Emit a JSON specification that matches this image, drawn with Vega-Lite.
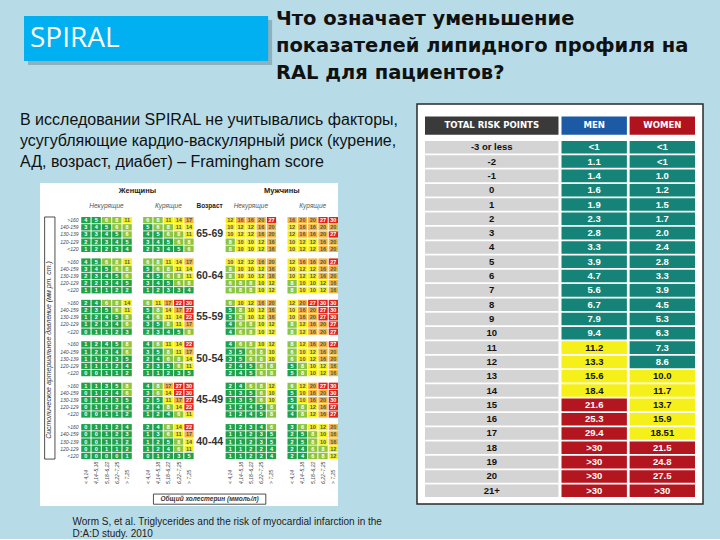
{
  "$schema": "https://vega.github.io/schema/vega-lite/v6.json",
  "background": "#b7dce8",
  "padding": {"left": 20, "top": 7, "right": 16, "bottom": 0},
  "config": {"view": {"stroke": null}, "font": "Liberation Sans"},
  "datasets": {
    "score": [
      {"age":"65-69","sbp":">160","WN1":4,"WN2":5,"WN3":6,"WN4":8,"WN5":11,"WS1":6,"WS2":8,"WS3":11,"WS4":14,"WS5":17,"MN1":12,"MN2":16,"MN3":16,"MN4":20,"MN5":27,"MS1":16,"MS2":20,"MS3":20,"MS4":27,"MS5":30},
      {"age":"65-69","sbp":"140-159","WN1":3,"WN2":4,"WN3":5,"WN4":6,"WN5":8,"WS1":5,"WS2":6,"WS3":8,"WS4":11,"WS5":14,"MN1":10,"MN2":12,"MN3":12,"MN4":16,"MN5":20,"MS1":12,"MS2":16,"MS3":16,"MS4":20,"MS5":20},
      {"age":"65-69","sbp":"130-139","WN1":3,"WN2":3,"WN3":4,"WN4":5,"WN5":6,"WS1":4,"WS2":5,"WS3":6,"WS4":8,"WS5":11,"MN1":10,"MN2":12,"MN3":12,"MN4":16,"MN5":20,"MS1":12,"MS2":16,"MS3":16,"MS4":20,"MS5":27},
      {"age":"65-69","sbp":"120-129","WN1":2,"WN2":2,"WN3":3,"WN4":4,"WN5":5,"WS1":3,"WS2":4,"WS3":5,"WS4":6,"WS5":8,"MN1":8,"MN2":10,"MN3":10,"MN4":12,"MN5":16,"MS1":10,"MS2":12,"MS3":12,"MS4":16,"MS5":20},
      {"age":"65-69","sbp":"<120","WN1":1,"WN2":2,"WN3":2,"WN4":3,"WN5":4,"WS1":2,"WS2":3,"WS3":4,"WS4":5,"WS5":6,"MN1":8,"MN2":10,"MN3":10,"MN4":12,"MN5":16,"MS1":10,"MS2":12,"MS3":12,"MS4":16,"MS5":20},
      {"age":"60-64","sbp":">160","WN1":4,"WN2":5,"WN3":6,"WN4":8,"WN5":11,"WS1":6,"WS2":8,"WS3":11,"WS4":14,"WS5":17,"MN1":10,"MN2":12,"MN3":12,"MN4":16,"MN5":20,"MS1":12,"MS2":16,"MS3":16,"MS4":20,"MS5":27},
      {"age":"60-64","sbp":"140-159","WN1":3,"WN2":4,"WN3":5,"WN4":6,"WN5":8,"WS1":5,"WS2":6,"WS3":8,"WS4":11,"WS5":14,"MN1":8,"MN2":10,"MN3":10,"MN4":12,"MN5":16,"MS1":10,"MS2":12,"MS3":12,"MS4":16,"MS5":20},
      {"age":"60-64","sbp":"130-139","WN1":2,"WN2":3,"WN3":4,"WN4":5,"WN5":6,"WS1":4,"WS2":5,"WS3":6,"WS4":8,"WS5":11,"MN1":8,"MN2":10,"MN3":10,"MN4":12,"MN5":16,"MS1":10,"MS2":12,"MS3":12,"MS4":16,"MS5":20},
      {"age":"60-64","sbp":"120-129","WN1":2,"WN2":2,"WN3":3,"WN4":4,"WN5":5,"WS1":3,"WS2":4,"WS3":5,"WS4":6,"WS5":8,"MN1":6,"MN2":8,"MN3":8,"MN4":10,"MN5":12,"MS1":8,"MS2":10,"MS3":10,"MS4":12,"MS5":16},
      {"age":"60-64","sbp":"<120","WN1":1,"WN2":1,"WN3":1,"WN4":2,"WN5":2,"WS1":1,"WS2":2,"WS3":3,"WS4":3,"WS5":4,"MN1":6,"MN2":8,"MN3":8,"MN4":10,"MN5":12,"MS1":8,"MS2":10,"MS3":10,"MS4":12,"MS5":16},
      {"age":"55-59","sbp":">160","WN1":2,"WN2":4,"WN3":6,"WN4":8,"WN5":14,"WS1":6,"WS2":11,"WS3":17,"WS4":22,"WS5":30,"MN1":6,"MN2":10,"MN3":12,"MN4":16,"MN5":20,"MS1":12,"MS2":20,"MS3":27,"MS4":30,"MS5":30},
      {"age":"55-59","sbp":"140-159","WN1":2,"WN2":3,"WN3":5,"WN4":6,"WN5":11,"WS1":5,"WS2":8,"WS3":14,"WS4":17,"WS5":27,"MN1":5,"MN2":8,"MN3":10,"MN4":12,"MN5":16,"MS1":10,"MS2":16,"MS3":20,"MS4":27,"MS5":30},
      {"age":"55-59","sbp":"130-139","WN1":1,"WN2":2,"WN3":4,"WN4":5,"WN5":8,"WS1":4,"WS2":6,"WS3":11,"WS4":14,"WS5":22,"MN1":5,"MN2":8,"MN3":10,"MN4":12,"MN5":16,"MS1":10,"MS2":16,"MS3":20,"MS4":27,"MS5":30},
      {"age":"55-59","sbp":"120-129","WN1":1,"WN2":2,"WN3":3,"WN4":4,"WN5":6,"WS1":3,"WS2":5,"WS3":8,"WS4":11,"WS5":17,"MN1":4,"MN2":6,"MN3":8,"MN4":10,"MN5":12,"MS1":8,"MS2":12,"MS3":16,"MS4":20,"MS5":27},
      {"age":"55-59","sbp":"<120","WN1":0,"WN2":1,"WN3":1,"WN4":2,"WN5":3,"WS1":2,"WS2":3,"WS3":4,"WS4":5,"WS5":8,"MN1":4,"MN2":6,"MN3":8,"MN4":10,"MN5":12,"MS1":8,"MS2":12,"MS3":16,"MS4":20,"MS5":27},
      {"age":"50-54","sbp":">160","WN1":1,"WN2":2,"WN3":4,"WN4":5,"WN5":8,"WS1":4,"WS2":6,"WS3":11,"WS4":14,"WS5":22,"MN1":4,"MN2":6,"MN3":8,"MN4":10,"MN5":12,"MS1":8,"MS2":12,"MS3":16,"MS4":20,"MS5":27},
      {"age":"50-54","sbp":"140-159","WN1":1,"WN2":2,"WN3":3,"WN4":4,"WN5":6,"WS1":3,"WS2":5,"WS3":8,"WS4":11,"WS5":17,"MN1":3,"MN2":5,"MN3":6,"MN4":8,"MN5":10,"MS1":6,"MS2":10,"MS3":12,"MS4":16,"MS5":20},
      {"age":"50-54","sbp":"130-139","WN1":1,"WN2":1,"WN3":2,"WN4":3,"WN5":5,"WS1":2,"WS2":4,"WS3":6,"WS4":8,"WS5":14,"MN1":3,"MN2":5,"MN3":6,"MN4":8,"MN5":10,"MS1":6,"MS2":10,"MS3":12,"MS4":16,"MS5":20},
      {"age":"50-54","sbp":"120-129","WN1":1,"WN2":1,"WN3":1,"WN4":2,"WN5":4,"WS1":2,"WS2":3,"WS3":5,"WS4":6,"WS5":11,"MN1":2,"MN2":4,"MN3":5,"MN4":6,"MN5":8,"MS1":5,"MS2":8,"MS3":10,"MS4":12,"MS5":16},
      {"age":"50-54","sbp":"<120","WN1":0,"WN2":0,"WN3":1,"WN4":1,"WN5":2,"WS1":1,"WS2":1,"WS3":2,"WS4":3,"WS5":5,"MN1":2,"MN2":4,"MN3":5,"MN4":6,"MN5":8,"MS1":5,"MS2":8,"MS3":10,"MS4":12,"MS5":16},
      {"age":"45-49","sbp":">160","WN1":1,"WN2":1,"WN3":3,"WN4":5,"WN5":8,"WS1":4,"WS2":8,"WS3":17,"WS4":27,"WS5":30,"MN1":2,"MN2":4,"MN3":6,"MN4":8,"MN5":12,"MS1":6,"MS2":12,"MS3":20,"MS4":27,"MS5":30},
      {"age":"45-49","sbp":"140-159","WN1":0,"WN2":1,"WN3":2,"WN4":4,"WN5":6,"WS1":3,"WS2":6,"WS3":14,"WS4":22,"WS5":30,"MN1":1,"MN2":3,"MN3":5,"MN4":6,"MN5":10,"MS1":5,"MS2":10,"MS3":16,"MS4":20,"MS5":30},
      {"age":"45-49","sbp":"130-139","WN1":0,"WN2":1,"WN3":2,"WN4":3,"WN5":5,"WS1":2,"WS2":5,"WS3":11,"WS4":17,"WS5":27,"MN1":1,"MN2":3,"MN3":5,"MN4":6,"MN5":10,"MS1":5,"MS2":10,"MS3":16,"MS4":20,"MS5":30},
      {"age":"45-49","sbp":"120-129","WN1":0,"WN2":1,"WN3":1,"WN4":2,"WN5":4,"WS1":2,"WS2":4,"WS3":8,"WS4":14,"WS5":22,"MN1":1,"MN2":2,"MN3":4,"MN4":5,"MN5":8,"MS1":4,"MS2":8,"MS3":12,"MS4":16,"MS5":27},
      {"age":"45-49","sbp":"<120","WN1":0,"WN2":0,"WN3":1,"WN4":1,"WN5":2,"WS1":1,"WS2":2,"WS3":4,"WS4":6,"WS5":11,"MN1":1,"MN2":2,"MN3":4,"MN4":5,"MN5":8,"MS1":4,"MS2":8,"MS3":12,"MS4":16,"MS5":27},
      {"age":"40-44","sbp":">160","WN1":0,"WN2":1,"WN3":1,"WN4":2,"WN5":4,"WS1":2,"WS2":4,"WS3":8,"WS4":14,"WS5":22,"MN1":1,"MN2":2,"MN3":3,"MN4":4,"MN5":6,"MS1":3,"MS2":6,"MS3":10,"MS4":12,"MS5":20},
      {"age":"40-44","sbp":"140-159","WN1":0,"WN2":0,"WN3":1,"WN4":2,"WN5":3,"WS1":1,"WS2":3,"WS3":6,"WS4":11,"WS5":17,"MN1":1,"MN2":1,"MN3":2,"MN4":3,"MN5":5,"MS1":2,"MS2":5,"MS3":8,"MS4":10,"MS5":16},
      {"age":"40-44","sbp":"130-139","WN1":0,"WN2":0,"WN3":1,"WN4":1,"WN5":2,"WS1":1,"WS2":2,"WS3":5,"WS4":8,"WS5":14,"MN1":1,"MN2":1,"MN3":2,"MN4":3,"MN5":5,"MS1":2,"MS2":5,"MS3":8,"MS4":10,"MS5":16},
      {"age":"40-44","sbp":"120-129","WN1":0,"WN2":0,"WN3":1,"WN4":1,"WN5":2,"WS1":1,"WS2":2,"WS3":4,"WS4":6,"WS5":11,"MN1":1,"MN2":1,"MN3":2,"MN4":2,"MN5":4,"MS1":2,"MS2":4,"MS3":6,"MS4":8,"MS5":12},
      {"age":"40-44","sbp":"<120","WN1":0,"WN2":0,"WN3":0,"WN4":0,"WN5":1,"WS1":0,"WS2":1,"WS3":2,"WS4":3,"WS5":5,"MN1":1,"MN2":1,"MN3":2,"MN4":2,"MN5":4,"MS1":2,"MS2":4,"MS3":6,"MS4":8,"MS5":12}
    ],
    "chol": [
      {"col":"WN1","chol":"< 4,14"},{"col":"WN2","chol":"4,14–5,18"},{"col":"WN3","chol":"5,18–6,22"},{"col":"WN4","chol":"6,22–7,25"},{"col":"WN5","chol":"> 7,25"},
      {"col":"WS1","chol":"< 4,14"},{"col":"WS2","chol":"4,14–5,18"},{"col":"WS3","chol":"5,18–6,22"},{"col":"WS4","chol":"6,22–7,25"},{"col":"WS5","chol":"> 7,25"},
      {"col":"MN1","chol":"< 4,14"},{"col":"MN2","chol":"4,14–5,18"},{"col":"MN3","chol":"5,18–6,22"},{"col":"MN4","chol":"6,22–7,25"},{"col":"MN5","chol":"> 7,25"},
      {"col":"MS1","chol":"< 4,14"},{"col":"MS2","chol":"4,14–5,18"},{"col":"MS3","chol":"5,18–6,22"},{"col":"MS4","chol":"6,22–7,25"},{"col":"MS5","chol":"> 7,25"}
    ],
    "heads": [
      {"col":"gapW","text":"Женщины","kind":"sex"},
      {"col":"gapM","text":"Мужчины","kind":"sex"},
      {"col":"WN3","text":"Некурящие","kind":"smoke"},
      {"col":"WS3","text":"Курящие","kind":"smoke"},
      {"col":"MN3","text":"Некурящие","kind":"smoke"},
      {"col":"MS3","text":"Курящие","kind":"smoke"},
      {"col":"age2","text":"Возраст","kind":"age"}
    ],
    "table": [
      {"points":"-3 or less","sex":"MEN","risk":"<1","level":"<10%"},{"points":"-3 or less","sex":"WOMEN","risk":"<1","level":"<10%"},
      {"points":"-2","sex":"MEN","risk":"1.1","level":"<10%"},{"points":"-2","sex":"WOMEN","risk":"<1","level":"<10%"},
      {"points":"-1","sex":"MEN","risk":"1.4","level":"<10%"},{"points":"-1","sex":"WOMEN","risk":"1.0","level":"<10%"},
      {"points":"0","sex":"MEN","risk":"1.6","level":"<10%"},{"points":"0","sex":"WOMEN","risk":"1.2","level":"<10%"},
      {"points":"1","sex":"MEN","risk":"1.9","level":"<10%"},{"points":"1","sex":"WOMEN","risk":"1.5","level":"<10%"},
      {"points":"2","sex":"MEN","risk":"2.3","level":"<10%"},{"points":"2","sex":"WOMEN","risk":"1.7","level":"<10%"},
      {"points":"3","sex":"MEN","risk":"2.8","level":"<10%"},{"points":"3","sex":"WOMEN","risk":"2.0","level":"<10%"},
      {"points":"4","sex":"MEN","risk":"3.3","level":"<10%"},{"points":"4","sex":"WOMEN","risk":"2.4","level":"<10%"},
      {"points":"5","sex":"MEN","risk":"3.9","level":"<10%"},{"points":"5","sex":"WOMEN","risk":"2.8","level":"<10%"},
      {"points":"6","sex":"MEN","risk":"4.7","level":"<10%"},{"points":"6","sex":"WOMEN","risk":"3.3","level":"<10%"},
      {"points":"7","sex":"MEN","risk":"5.6","level":"<10%"},{"points":"7","sex":"WOMEN","risk":"3.9","level":"<10%"},
      {"points":"8","sex":"MEN","risk":"6.7","level":"<10%"},{"points":"8","sex":"WOMEN","risk":"4.5","level":"<10%"},
      {"points":"9","sex":"MEN","risk":"7.9","level":"<10%"},{"points":"9","sex":"WOMEN","risk":"5.3","level":"<10%"},
      {"points":"10","sex":"MEN","risk":"9.4","level":"<10%"},{"points":"10","sex":"WOMEN","risk":"6.3","level":"<10%"},
      {"points":"11","sex":"MEN","risk":"11.2","level":"10–20%"},{"points":"11","sex":"WOMEN","risk":"7.3","level":"<10%"},
      {"points":"12","sex":"MEN","risk":"13.3","level":"10–20%"},{"points":"12","sex":"WOMEN","risk":"8.6","level":"<10%"},
      {"points":"13","sex":"MEN","risk":"15.6","level":"10–20%"},{"points":"13","sex":"WOMEN","risk":"10.0","level":"10–20%"},
      {"points":"14","sex":"MEN","risk":"18.4","level":"10–20%"},{"points":"14","sex":"WOMEN","risk":"11.7","level":"10–20%"},
      {"points":"15","sex":"MEN","risk":"21.6","level":">20%"},{"points":"15","sex":"WOMEN","risk":"13.7","level":"10–20%"},
      {"points":"16","sex":"MEN","risk":"25.3","level":">20%"},{"points":"16","sex":"WOMEN","risk":"15.9","level":"10–20%"},
      {"points":"17","sex":"MEN","risk":"29.4","level":">20%"},{"points":"17","sex":"WOMEN","risk":"18.51","level":"10–20%"},
      {"points":"18","sex":"MEN","risk":">30","level":">20%"},{"points":"18","sex":"WOMEN","risk":"21.5","level":">20%"},
      {"points":"19","sex":"MEN","risk":">30","level":">20%"},{"points":"19","sex":"WOMEN","risk":"24.8","level":">20%"},
      {"points":"20","sex":"MEN","risk":">30","level":">20%"},{"points":"20","sex":"WOMEN","risk":"27.5","level":">20%"},
      {"points":"21+","sex":"MEN","risk":">30","level":">20%"},{"points":"21+","sex":"WOMEN","risk":">30","level":">20%"}
    ]
  },
  "spacing": -124,
  "hconcat": [
    {
      "spacing": 118,
      "center": true,
      "bounds": "flush",
      "vconcat": [
        {
          "width": 330,
          "height": 49,
          "data": {"values": [{"label": "SPIRAL"}]},
          "layer": [
            {
              "mark": {"type": "rect", "color": "#6f8e99", "opacity": 0.55},
              "encoding": {
                "x": {"datum": "SPIRAL", "type": "nominal", "bandPosition": 0.016, "scale": {"paddingInner": 0, "paddingOuter": 0.165, "align": 0}, "axis": null},
                "x2": {"datum": "SPIRAL", "bandPosition": 1},
                "y": {"datum": "SPIRAL", "type": "nominal", "bandPosition": 0.082, "scale": {"paddingInner": 0, "paddingOuter": 0}, "axis": null},
                "y2": {"datum": "SPIRAL", "bandPosition": 1}
              }
            },
            {
              "mark": {"type": "rect", "color": "#00b0f0"},
              "encoding": {
                "x": {"datum": "SPIRAL", "type": "nominal", "bandPosition": 0, "axis": null},
                "x2": {"datum": "SPIRAL", "bandPosition": 0.984},
                "y": {"datum": "SPIRAL", "type": "nominal", "bandPosition": 0, "axis": null},
                "y2": {"datum": "SPIRAL", "bandPosition": 0.918}
              }
            },
            {
              "mark": {"type": "text", "font": "Open Sans", "fontSize": 28, "color": "#ffffff", "align": "left", "baseline": "middle", "dx": 6, "dy": -2},
              "encoding": {
                "x": {"field": "label", "type": "nominal", "bandPosition": 0, "axis": null},
                "y": {"field": "label", "type": "nominal", "axis": null},
                "text": {"field": "label"}
              }
            }
          ]
        },
        {
          "width": 298,
          "height": 323,
          "view": {"fill": "#ffffff", "stroke": null},
          "title": {
            "text": ["В исследовании SPIRAL не учитывались факторы,", "усугубляющие кардио-васкулярный риск (курение,", "АД, возраст, диабет) – Framingham score"],
            "anchor": "start", "frame": "group", "dx": -20, "offset": 13,
            "font": "Liberation Sans", "fontSize": 16, "fontWeight": "normal", "color": "#111111", "lineHeight": 21
          },
          "layer": [
            {
              "data": {"name": "score"},
              "transform": [{"fold": ["WN1","WN2","WN3","WN4","WN5","WS1","WS2","WS3","WS4","WS5","MN1","MN2","MN3","MN4","MN5","MS1","MS2","MS3","MS4","MS5"], "as": ["col", "risk"]}],
              "mark": {"type": "rect"},
              "encoding": {
                "x": {
                  "field": "col", "type": "nominal",
                  "scale": {"domain": ["pad0","pad1","pad2","pad3","WN1","WN2","WN3","WN4","WN5","gapW","WS1","WS2","WS3","WS4","WS5","age1","age2","age3","MN1","MN2","MN3","MN4","MN5","gapM","MS1","MS2","MS3","MS4","MS5"], "paddingInner": 0.1, "paddingOuter": 0},
                  "axis": {
                    "labels": false, "ticks": false, "domain": false, "grid": false,
                    "title": ["Worm S, et al. Triglycerides and the risk of myocardial infarction in the", "D:A:D study. 2010"],
                    "titleFont": "Liberation Sans", "titleFontSize": 10, "titleFontWeight": "normal", "titleColor": "#222222",
                    "titleX": 32, "titleY": 10, "titleAlign": "left", "titleAnchor": "start", "titleBaseline": "top", "titleLineHeight": 12.5
                  }
                },
                "y": {"field": "age", "type": "nominal", "scale": {"domain": ["65-69","60-64","55-59","50-54","45-49","40-44"], "paddingInner": 0.155, "paddingOuter": 0.977, "align": 0.42}, "axis": null},
                "yOffset": {"field": "sbp", "type": "nominal", "scale": {"domain": [">160","140-159","130-139","120-129","<120"], "paddingInner": 0.12}},
                "color": {"field": "risk", "type": "quantitative", "scale": {"type": "threshold", "domain": [6, 10, 15, 21], "range": ["#1ea24a", "#8cc63e", "#f4ef1d", "#f6b53a", "#e2231a"]}, "legend": null}
              }
            },
            {
              "data": {"name": "score"},
              "transform": [{"fold": ["WN1","WN2","WN3","WN4","WN5","WS1","WS2","WS3","WS4","WS5","MN1","MN2","MN3","MN4","MN5","MS1","MS2","MS3","MS4","MS5"], "as": ["col", "risk"]}],
              "mark": {"type": "text", "fontSize": 5.5, "fontWeight": "bold", "font": "Liberation Sans"},
              "encoding": {
                "x": {"field": "col", "type": "nominal"},
                "y": {"field": "age", "type": "nominal", "axis": null},
                "yOffset": {"field": "sbp", "type": "nominal"},
                "text": {"field": "risk", "type": "quantitative"},
                "color": {"condition": {"test": "datum.risk >= 10 && datum.risk < 21", "value": "#555555"}, "value": "#ffffff"}
              }
            },
            {
              "data": {"name": "score"},
              "mark": {"type": "text", "fontSize": 5, "fontStyle": "italic", "align": "right", "dx": 3, "color": "#444444"},
              "encoding": {
                "x": {"datum": "pad3", "type": "nominal"},
                "y": {"field": "age", "type": "nominal", "axis": null},
                "yOffset": {"field": "sbp", "type": "nominal"},
                "text": {"field": "sbp"}
              }
            },
            {
              "data": {"name": "score"},
              "transform": [{"filter": "datum.sbp == '130-139'"}],
              "mark": {"type": "text", "fontSize": 10.5, "fontWeight": "bold", "color": "#333333"},
              "encoding": {
                "x": {"datum": "age2", "type": "nominal"},
                "y": {"field": "age", "type": "nominal", "axis": null},
                "text": {"field": "age"}
              }
            },
            {
              "data": {"name": "chol"},
              "mark": {"type": "text", "fontSize": 5, "fontStyle": "italic", "angle": 270, "align": "left", "baseline": "middle", "dx": -28, "color": "#444444"},
              "encoding": {
                "x": {"field": "col", "type": "nominal"},
                "y": {"datum": "40-44", "type": "nominal", "axis": null},
                "yOffset": {"datum": "<120", "type": "nominal"},
                "text": {"field": "chol"}
              }
            },
            {
              "data": {"name": "heads"},
              "transform": [{"filter": "datum.kind == 'sex'"}],
              "mark": {"type": "text", "fontSize": 7.5, "fontWeight": "bold", "color": "#222222", "dy": -29},
              "encoding": {
                "x": {"field": "col", "type": "nominal"},
                "y": {"datum": "65-69", "type": "nominal", "axis": null},
                "yOffset": {"datum": ">160", "type": "nominal"},
                "text": {"field": "text"}
              }
            },
            {
              "data": {"name": "heads"},
              "transform": [{"filter": "datum.kind == 'smoke'"}],
              "mark": {"type": "text", "fontSize": 6.5, "fontStyle": "italic", "color": "#555555", "dy": -14},
              "encoding": {
                "x": {"field": "col", "type": "nominal"},
                "y": {"datum": "65-69", "type": "nominal", "axis": null},
                "yOffset": {"datum": ">160", "type": "nominal"},
                "text": {"field": "text"}
              }
            },
            {
              "data": {"name": "heads"},
              "transform": [{"filter": "datum.kind == 'age'"}],
              "mark": {"type": "text", "fontSize": 6.5, "fontWeight": "bold", "color": "#222222", "dy": -14},
              "encoding": {
                "x": {"field": "col", "type": "nominal"},
                "y": {"datum": "65-69", "type": "nominal", "axis": null},
                "yOffset": {"datum": ">160", "type": "nominal"},
                "text": {"field": "text"}
              }
            },
            {
              "data": {"values": [{"label": "Систолическое артериальное давление (мм рт. ст.)"}]},
              "mark": {"type": "rect", "fill": "#ffffff", "stroke": "#222222", "strokeWidth": 0.8},
              "encoding": {
                "x": {"datum": "pad0", "type": "nominal", "bandPosition": 0.5},
                "x2": {"datum": "pad1", "bandPosition": 0.5},
                "y": {"datum": "65-69", "type": "nominal", "bandPosition": 0, "axis": null},
                "y2": {"datum": "40-44", "bandPosition": 1}
              }
            },
            {
              "data": {"values": [{"label": "Систолическое артериальное давление (мм рт. ст.)"}]},
              "mark": {"type": "text", "fontSize": 7, "fontStyle": "italic", "angle": 270, "align": "center", "baseline": "middle", "dx": -32.7, "dy": 4.85, "color": "#333333"},
              "encoding": {
                "x": {"datum": "pad0", "type": "nominal"},
                "y": {"datum": "55-59", "type": "nominal", "axis": null},
                "text": {"field": "label"}
              }
            },
            {
              "data": {"values": [{"label": "Общий холестерин (ммоль/л)"}]},
              "mark": {"type": "rect", "fill": "#ffffff", "stroke": "#222222", "strokeWidth": 0.8},
              "encoding": {
                "x": {"datum": "WS2", "type": "nominal", "bandPosition": 0},
                "x2": {"datum": "MN4", "bandPosition": 1},
                "y": {"datum": "40-44", "type": "nominal", "bandPosition": 2.0, "axis": null},
                "y2": {"datum": "40-44", "bandPosition": 2.29}
              }
            },
            {
              "data": {"values": [{"label": "Общий холестерин (ммоль/л)"}]},
              "mark": {"type": "text", "fontSize": 6.5, "fontStyle": "italic", "fontWeight": "bold", "color": "#333333", "dy": 43},
              "encoding": {
                "x": {"datum": "age2", "type": "nominal"},
                "y": {"datum": "40-44", "type": "nominal", "axis": null},
                "yOffset": {"datum": "<120", "type": "nominal"},
                "text": {"field": "label"}
              }
            }
          ]
        }
      ]
    },
    {
      "spacing": 0,
      "bounds": "flush",
      "vconcat": [
        {
          "width": 286,
          "height": 88,
          "data": {"values": []},
          "mark": {"type": "rect"},
          "encoding": {}
        },
        {
          "width": 286,
          "height": 400,
          "view": {"fill": "#ffffff", "stroke": "#2a2a2a", "strokeWidth": 1.5},
          "title": {
            "text": ["Что означает уменьшение", "показателей липидного профиля на", "RAL для пациентов?"],
            "anchor": "start", "frame": "group", "dx": -141, "offset": 21,
            "font": "DejaVu Sans", "fontSize": 19.5, "fontWeight": "bold", "color": "#111111", "lineHeight": 27
          },
          "layer": [
            {
              "data": {"name": "table"},
              "transform": [{"filter": "datum.sex == 'MEN'"}],
              "mark": {"type": "rect", "color": "#d4d4d4"},
              "encoding": {
                "x": {"datum": "label", "type": "nominal", "scale": {"domain": ["label", "value"], "paddingInner": 0.022, "paddingOuter": 0.0586}, "axis": null},
                "y": {"field": "points", "type": "nominal", "scale": {"domain": ["header","hgap","-3 or less","-2","-1","0","1","2","3","4","5","6","7","8","9","10","11","12","13","14","15","16","17","18","19","20","21+"], "paddingInner": 0.12, "paddingOuter": 0.535, "align": 0.545}, "axis": null}
              }
            },
            {
              "data": {"name": "table"},
              "transform": [{"filter": "datum.sex == 'MEN'"}],
              "mark": {"type": "text", "font": "Liberation Sans", "fontSize": 9.5, "fontWeight": "bold", "color": "#111111"},
              "encoding": {
                "x": {"datum": "label", "type": "nominal", "axis": null},
                "y": {"field": "points", "type": "nominal", "axis": null},
                "text": {"field": "points"}
              }
            },
            {
              "data": {"name": "table"},
              "mark": {"type": "rect"},
              "encoding": {
                "x": {"datum": "value", "type": "nominal", "axis": null},
                "xOffset": {"field": "sex", "type": "nominal", "scale": {"domain": ["MEN", "WOMEN"], "paddingInner": 0.04}},
                "y": {"field": "points", "type": "nominal", "axis": null},
                "color": {"field": "level", "type": "nominal", "scale": {"domain": ["<10%", "10–20%", ">20%"], "range": ["#158378", "#f5f01a", "#b3161f"]}, "legend": null}
              }
            },
            {
              "data": {"name": "table"},
              "mark": {"type": "text", "font": "Liberation Sans", "fontSize": 9.5, "fontWeight": "bold"},
              "encoding": {
                "x": {"datum": "value", "type": "nominal", "axis": null},
                "xOffset": {"field": "sex", "type": "nominal"},
                "y": {"field": "points", "type": "nominal", "axis": null},
                "text": {"field": "risk"},
                "color": {"condition": {"test": "datum.level == '10–20%'", "value": "#111111"}, "value": "#ffffff"}
              }
            },
            {
              "data": {"values": [{"h": "TOTAL RISK POINTS"}]},
              "mark": {"type": "rect", "color": "#3a3a3a"},
              "encoding": {
                "x": {"datum": "label", "type": "nominal", "axis": null},
                "y": {"datum": "header", "type": "nominal", "bandPosition": 0.32, "axis": null},
                "y2": {"datum": "hgap", "bandPosition": 0.65}
              }
            },
            {
              "data": {"values": [{"h": "TOTAL RISK POINTS"}]},
              "mark": {"type": "text", "font": "DejaVu Sans Condensed", "fontSize": 9.5, "fontWeight": "bold", "color": "#ffffff"},
              "encoding": {
                "x": {"datum": "label", "type": "nominal", "axis": null},
                "y": {"datum": "header", "type": "nominal", "bandPosition": 1, "axis": null},
                "text": {"field": "h"}
              }
            },
            {
              "data": {"values": [{"sex": "MEN"}, {"sex": "WOMEN"}]},
              "mark": {"type": "rect"},
              "encoding": {
                "x": {"datum": "value", "type": "nominal", "axis": null},
                "xOffset": {"field": "sex", "type": "nominal"},
                "y": {"datum": "header", "type": "nominal", "bandPosition": 0.32, "axis": null},
                "y2": {"datum": "hgap", "bandPosition": 0.65},
                "fill": {"field": "sex", "type": "nominal", "scale": {"domain": ["MEN", "WOMEN"], "range": ["#1c5aa6", "#b0131d"]}, "legend": null}
              }
            },
            {
              "data": {"values": [{"sex": "MEN"}, {"sex": "WOMEN"}]},
              "mark": {"type": "text", "font": "DejaVu Sans Condensed", "fontSize": 9.5, "fontWeight": "bold", "color": "#ffffff"},
              "encoding": {
                "x": {"datum": "value", "type": "nominal", "axis": null},
                "xOffset": {"field": "sex", "type": "nominal"},
                "y": {"datum": "header", "type": "nominal", "bandPosition": 1, "axis": null},
                "text": {"field": "sex"}
              }
            }
          ]
        }
      ]
    }
  ]
}
